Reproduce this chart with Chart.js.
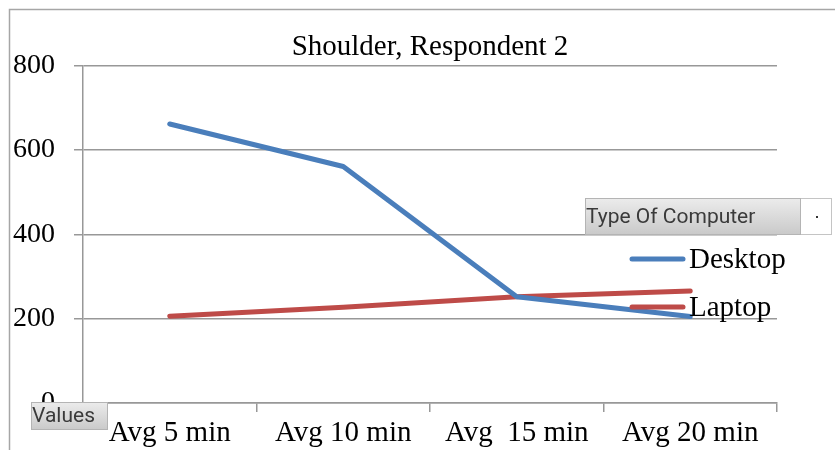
<!DOCTYPE html>
<html>
<head>
<meta charset="utf-8">
<script src="https://cdn.jsdelivr.net/npm/chart.js@4/dist/chart.umd.min.js"></script>
<style>
  html, body { margin: 0; padding: 0; background: #fff; }
  #wrap { width: 835px; height: 450px; }
</style>
</head>
<body>
<div id="wrap"><canvas id="chartShoulder" width="835" height="450"></canvas></div>
<script>
// data
const categories = ['Avg 5 min', 'Avg 10 min', 'Avg  15 min', 'Avg 20 min'];
const desktopValues = [662, 561, 252, 205];
const laptopValues = [206, 227, 252, 266];
const yTicks = [0, 200, 400, 600, 800];

const BLUE = '#4a7ebb';
const RED = '#be4b48';
const GRID = '#989898';
const SERIF = "'Liberation Serif', 'Times New Roman', serif";

// outer frame of the chart object
const framePlugin = {
    id: 'frame',
    beforeDraw(chart) {
        const c = chart.ctx;
        c.save();
        c.strokeStyle = '#a6a6a6';
        c.lineWidth = 1.5;
        c.beginPath();
        c.moveTo(9.5, 460);
        c.lineTo(9.5, 9.5);
        c.lineTo(840, 9.5);
        c.stroke();
        c.restore();
    }
};

// pivot field buttons + legend
function fieldButton(c, x, y, w, h, text) {
    const g = c.createLinearGradient(0, y, 0, y + h);
    g.addColorStop(0, '#ececec');
    g.addColorStop(1, '#c9c9c9');
    c.fillStyle = g;
    c.fillRect(x, y, w, h);
    c.strokeStyle = '#b4b4b4';
    c.lineWidth = 1;
    c.strokeRect(x + 0.5, y + 0.5, w - 1, h - 1);
    c.fillStyle = '#3a3a3a';
    c.font = "21px Roboto, 'Open Sans', sans-serif";
    c.textAlign = 'left';
    c.textBaseline = 'middle';
    c.fillText(text, x + 1, y + h / 2 + 1);
}

const overlayPlugin = {
    id: 'overlay',
    afterDraw(chart) {
        const c = chart.ctx;
        c.save();

        // "Type Of Computer" field button with drop-down part
        c.fillStyle = '#ffffff';
        c.fillRect(800, 198, 32, 37);
        c.strokeStyle = '#c4c4c4';
        c.strokeRect(585.5, 198.5, 246, 36);
        fieldButton(c, 585, 198, 216, 37, 'Type Of Computer');
        c.fillStyle = '#333';
        c.fillRect(816, 216, 2, 2);

        // legend entries
        const items = [
            { label: 'Desktop', color: BLUE, y: 259 },
            { label: 'Laptop', color: RED, y: 307 }
        ];
        c.lineCap = 'round';
        c.lineWidth = 5;
        c.font = '29px ' + SERIF;
        c.textAlign = 'left';
        c.textBaseline = 'middle';
        items.forEach(it => {
            c.strokeStyle = it.color;
            c.beginPath();
            c.moveTo(632, it.y);
            c.lineTo(683, it.y);
            c.stroke();
            c.fillStyle = '#000';
            c.fillText(it.label, 689, it.y + 1);
        });

        // "Values" field button
        fieldButton(c, 31, 402, 77, 28, 'Values');
        c.restore();
    }
};

new Chart(document.getElementById('chartShoulder').getContext('2d'), {
    type: 'line',
    data: {
        labels: categories,
        datasets: [
            {
                label: 'Desktop',
                data: desktopValues,
                borderColor: BLUE,
                backgroundColor: BLUE,
                borderWidth: 5,
                borderCapStyle: 'round',
                borderJoinStyle: 'round',
                pointRadius: 0,
                tension: 0,
                fill: false
            },
            {
                label: 'Laptop',
                data: laptopValues,
                borderColor: RED,
                backgroundColor: RED,
                borderWidth: 5,
                borderCapStyle: 'round',
                borderJoinStyle: 'round',
                pointRadius: 0,
                tension: 0,
                fill: false
            }
        ]
    },
    options: {
        responsive: false,
        animation: false,
        devicePixelRatio: 1,
        layout: { padding: { left: 10, right: 58, top: 0, bottom: 0 } },
        plugins: {
            legend: { display: false },
            tooltip: { enabled: false },
            title: {
                display: true,
                text: 'Shoulder, Respondent 2',
                fullSize: false,
                color: '#000',
                font: { family: SERIF, size: 29, weight: 'normal', lineHeight: 1.2 },
                padding: { top: 30, bottom: 1 }
            }
        },
        scales: {
            x: {
                offset: true,
                afterFit: s => { s.height = 47; },
                grid: {
                    offset: true,
                    drawOnChartArea: false,
                    drawTicks: true,
                    tickLength: 9,
                    color: GRID,
                    lineWidth: 1.5
                },
                border: { display: true, color: GRID, width: 1.5 },
                ticks: {
                    color: '#000',
                    padding: 4,
                    maxRotation: 0,
                    autoSkip: false,
                    font: { family: SERIF, size: 29 }
                }
            },
            y: {
                min: 0,
                max: 800,
                afterFit: s => { s.width = 73; },
                afterBuildTicks: s => { s.ticks = yTicks.map(v => ({ value: v })); },
                grid: {
                    color: GRID,
                    lineWidth: 1.5,
                    tickLength: 9
                },
                border: { display: true, color: GRID, width: 1.5 },
                ticks: {
                    color: '#000',
                    padding: 19,
                    font: { family: SERIF, size: 28 }
                }
            }
        }
    },
    plugins: [framePlugin, overlayPlugin]
});
</script>
</body>
</html>
